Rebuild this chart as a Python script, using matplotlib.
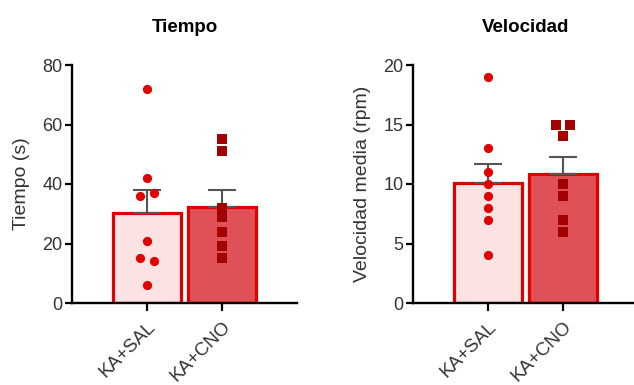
import numpy as np
import matplotlib
matplotlib.use("Agg")
import matplotlib.pyplot as plt

plt.rcParams['font.family'] = ['Liberation Sans', 'DejaVu Sans']

groups = ["KA+SAL", "KA+CNO"]

# Individual animals, time (s)
tiempo_sal = [72, 42, 36, 37, 21, 15, 14, 6]
tiempo_cno = [55, 51, 32, 29, 24, 19, 15]

# Individual animals, mean speed (rpm)
vel_sal = [19, 13, 11, 10, 9, 8, 7, 4]
vel_cno = [15, 15, 14, 10, 9, 7, 6]

# horizontal spread of overlapping points
jit_tiempo_sal = [0, 0, -0.09, 0.09, 0, -0.09, 0.09, 0]
jit_tiempo_cno = [0, 0, 0, 0, 0, 0, 0]
jit_vel_sal = [0, 0, 0, 0, 0, 0, 0, 0]
jit_vel_cno = [-0.09, 0.09, 0, 0, 0, 0, 0]

red = "#E00000"
sal_fill = "#FBE2E3"
cno_fill = "#E05157"
sq_col = "#A30000"
text_col = "#333333"


def sem(v):
    v = np.asarray(v, float)
    return v.std(ddof=1) / np.sqrt(len(v))


def panel(ax, sal, cno, jsal, jcno, title, ylabel, ymax, step):
    data = [sal, cno]
    means = [np.mean(d) for d in data]
    errs = [sem(d) for d in data]
    x = np.arange(len(groups))
    ax.bar(x, means, width=0.9, color=[sal_fill, cno_fill],
           edgecolor=red, linewidth=2.3, zorder=1)
    for xi, m, e in zip(x, means, errs):
        ax.errorbar([xi], [m], yerr=[[0], [e]], color="#555555",
                    lw=1.5, capsize=10, capthick=1.5, zorder=2)
    ax.scatter(x[0] + np.asarray(jsal), sal, s=44, marker="o",
               color=red, zorder=3, linewidths=0)
    ax.scatter(x[1] + np.asarray(jcno), cno, s=42, marker="s",
               color=sq_col, zorder=3, linewidths=0)
    ax.set_xlim(-1, 2)
    ax.set_ylim(0, ymax)
    ax.set_yticks(np.arange(0, ymax + 1, step))
    ax.set_xticks(x)
    ax.set_xticklabels(groups, rotation=45, ha="right",
                       rotation_mode="anchor", fontsize=13.5, color=text_col)
    ax.tick_params(axis="y", labelsize=13, length=5, width=1.6,
                   labelcolor=text_col, pad=2)
    ax.tick_params(axis="x", length=6, width=1.6, pad=5)
    for s in ("top", "right"):
        ax.spines[s].set_visible(False)
    for s in ("left", "bottom"):
        ax.spines[s].set_linewidth(1.7)
    ax.set_title(title, fontsize=13.5, fontweight="bold", pad=24)
    ax.set_ylabel(ylabel, fontsize=14, labelpad=9, color=text_col)


fig = plt.figure(figsize=(6.34, 3.85), dpi=100)
ax1 = fig.add_axes([72 / 634, 82 / 385, 225 / 634, 238 / 385])
ax2 = fig.add_axes([413 / 634, 82 / 385, 225 / 634, 238 / 385])

panel(ax1, tiempo_sal, tiempo_cno, jit_tiempo_sal, jit_tiempo_cno,
      "Tiempo", "Tiempo (s)", 80, 20)
panel(ax2, vel_sal, vel_cno, jit_vel_sal, jit_vel_cno,
      "Velocidad", "Velocidad media (rpm)", 20, 5)

fig.savefig("out.png", dpi=100)
